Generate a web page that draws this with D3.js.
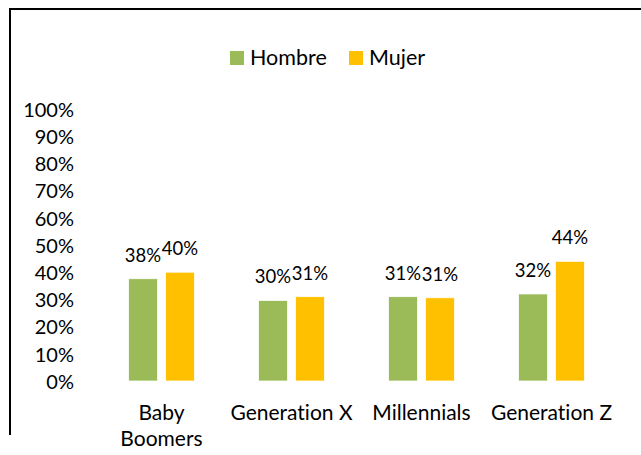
<!DOCTYPE html>
<html>
<head>
<meta charset="utf-8">
<script src="https://cdn.jsdelivr.net/npm/d3@7"></script>
<style>
  body { margin: 0; background: #fff; }
  svg text { font-family: Lato, "Open Sans", sans-serif; fill: #000; font-variant-ligatures: none; font-feature-settings: "liga" 0, "dlig" 0; }
</style>
</head>
<body>
<div id="chart"></div>
<script>
const categories = ['Baby Boomers', 'Generation X', 'Millennials', 'Generation Z']
const series = ['Hombre', 'Mujer']
const hombre = [0.376, 0.296, 0.31, 0.32]
const mujer = [0.40, 0.31, 0.306, 0.44]
const yTicks = [0, 0.1, 0.2, 0.3, 0.4, 0.5, 0.6, 0.7, 0.8, 0.9, 1]
const colors = ['#9BBB59', '#FFC000']

const WIDTH = 641
const HEIGHT = 455

const svg = d3.select('#chart')
    .append('svg')
    .attr('width', WIDTH)
    .attr('height', HEIGHT)

// frame (top and left edges only are visible)
svg.append('path')
    .attr('d', 'M10,435V9H641')
    .attr('fill', 'none')
    .attr('stroke', '#000')
    .attr('stroke-width', 2)

const x0 = d3.scaleBand().domain(categories).range([96.5, 616.5]).padding(0)
const x1 = d3.scaleBand().domain(series)
    .range([x0.bandwidth() / 2 - 33, x0.bandwidth() / 2 + 33])
    .paddingInner(2 - 66 / 37)
const y = d3.scaleLinear().domain([0, 1]).range([381, 109])

const yAxis = svg.append('g')
    .attr('transform', 'translate(74,0)')
    .call(d3.axisLeft(y).tickValues(yTicks).tickSize(0).tickPadding(0).tickFormat(d3.format('.0%')))
yAxis.select('.domain').remove()
yAxis.selectAll('text')
    .attr('font-size', 20)
    .attr('font-family', 'Lato, sans-serif')
    .attr('dy', '0.36em')

const rows = categories.map((c, i) => ({ cat: c, vals: [hombre[i], mujer[i]] }))

const groups = svg.selectAll('.group')
    .data(rows)
    .enter()
    .append('g')
    .attr('class', 'group')
    .attr('transform', d => `translate(${x0(d.cat)},0)`)

groups.selectAll('rect')
    .data(d => d.vals.map((v, j) => ({ s: series[j], v: v, j: j })))
    .enter()
    .append('rect')
    .attr('x', d => x1(d.s))
    .attr('y', d => y(d.v))
    .attr('width', x1.bandwidth())
    .attr('height', d => y(0) - y(d.v))
    .attr('fill', d => colors[d.j])
    .attr('stroke', '#fff')
    .attr('stroke-width', 0.75)

groups.selectAll('.lbl')
    .data(d => d.vals.map((v, j) => ({ s: series[j], v: v, j: j })))
    .enter()
    .append('text')
    .attr('class', 'lbl')
    .attr('x', d => x1(d.s) + x1.bandwidth() / 2)
    .attr('y', d => y(d.v) - 17)
    .attr('text-anchor', 'middle')
    .attr('font-size', 18.5)
    .text(d => Math.round(d.v * 100) + '%')

// category labels, wrap "Baby Boomers" like the original
const xLabels = {
    'Baby Boomers': ['Baby', 'Boomers'],
    'Generation X': ['Generation X'],
    'Millennials': ['Millennials'],
    'Generation Z': ['Generation Z']
}
categories.forEach(c => {
    const t = svg.append('text')
        .attr('x', x0(c) + x0.bandwidth() / 2)
        .attr('y', 420)
        .attr('text-anchor', 'middle')
        .attr('font-size', 21)
    xLabels[c].forEach((line, k) => {
        t.append('tspan')
            .attr('x', x0(c) + x0.bandwidth() / 2)
            .attr('dy', k === 0 ? 0 : 26)
            .text(line)
    })
})

// legend
const legendX = [230, 349]
series.forEach((s, i) => {
    svg.append('rect')
        .attr('x', legendX[i])
        .attr('y', 51)
        .attr('width', 14)
        .attr('height', 14)
        .attr('fill', colors[i])
    svg.append('text')
        .attr('x', legendX[i] + 20)
        .attr('y', 65)
        .attr('font-size', 21.5)
        .text(s)
})
</script>
</body>
</html>
